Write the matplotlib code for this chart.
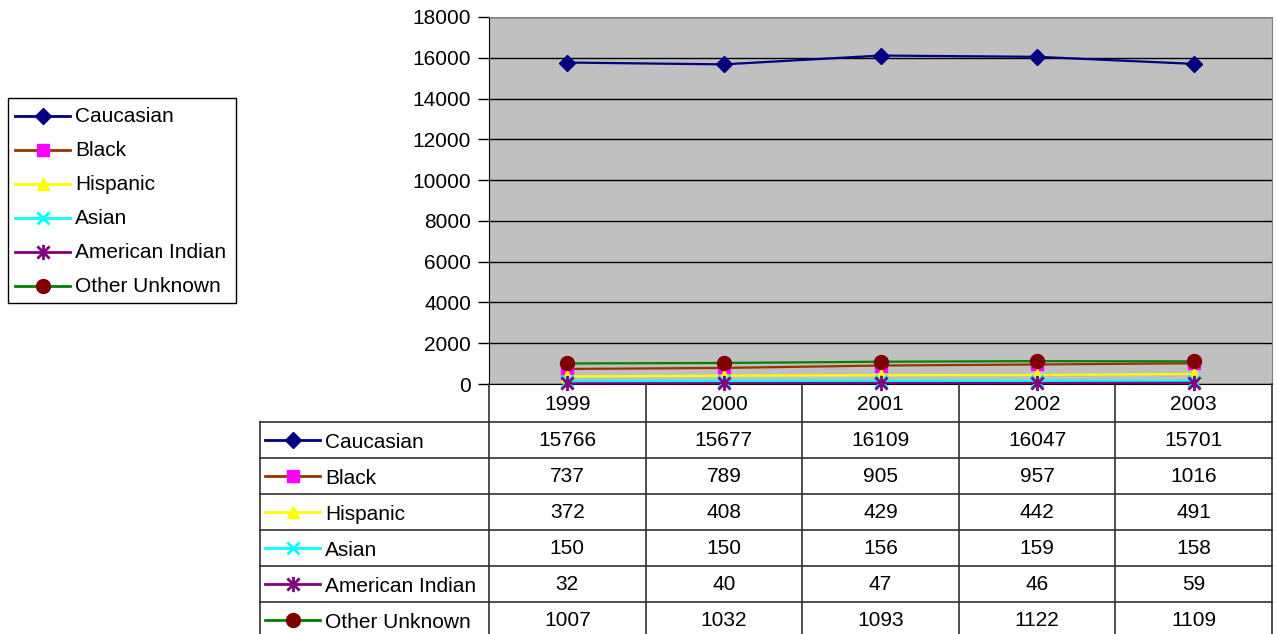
import matplotlib
matplotlib.use("Agg")
import matplotlib.pyplot as plt
from matplotlib.lines import Line2D
from matplotlib.path import Path

plt.rcParams['font.family'] = ['Liberation Sans', 'DejaVu Sans']

years = ["1999", "2000", "2001", "2002", "2003"]
series_names = ["Caucasian", "Black", "Hispanic", "Asian", "American Indian", "Other Unknown"]
caucasian = [15766, 15677, 16109, 16047, 15701]
black = [737, 789, 905, 957, 1016]
hispanic = [372, 408, 429, 442, 491]
asian = [150, 150, 156, 159, 158]
american_indian = [32, 40, 47, 46, 59]
other_unknown = [1007, 1032, 1093, 1122, 1109]
y_ticks = [0, 2000, 4000, 6000, 8000, 10000, 12000, 14000, 16000, 18000]

# asterisk marker: a diagonal cross with a vertical stroke through it
star = Path(
    [(-1, -1), (1, 1), (-1, 1), (1, -1), (0, -1.25), (0, 1.25)],
    [Path.MOVETO, Path.LINETO, Path.MOVETO, Path.LINETO, Path.MOVETO, Path.LINETO],
)

series_values = [caucasian, black, hispanic, asian, american_indian, other_unknown]
line_colors = ["#000080", "#993300", "#FFFF00", "#00FFFF", "#800080", "#008000"]
marker_styles = [
    dict(marker="D", mfc="#000080", mec="#000080", ms=8),
    dict(marker="s", mfc="#FF00FF", mec="#FF00FF", ms=8.5),
    dict(marker="^", mfc="#FFFF00", mec="#FFFF00", ms=9),
    dict(marker="x", mfc="#00FFFF", mec="#00FFFF", ms=9, mew=2),
    dict(marker=star, mfc="none", mec="#800080", ms=11, mew=2),
    dict(marker="o", mfc="#800000", mec="#800000", ms=10),
]

W, H = 1277, 634
fig = plt.figure(figsize=(W / 100, H / 100), dpi=100)
FS = 15

# plot area in pixel coordinates
px_l, px_r, px_t, px_b = 489, 1272, 17, 384
ax = fig.add_axes([px_l / W, 1 - px_b / H, (px_r - px_l) / W, (px_b - px_t) / H])
ax.set_facecolor("#C0C0C0")
x = list(range(len(years)))
for name, vals, lc_, ms in zip(series_names, series_values, line_colors, marker_styles):
    ax.plot(x, vals, lw=1.6, color=lc_, label=name, zorder=3, clip_on=False, **ms)
ax.set_xlim(-0.5, len(years) - 0.5)
ax.set_ylim(0, 18000)
ax.set_yticks(y_ticks)
ax.set_yticklabels([str(t) for t in y_ticks], fontsize=FS)
ax.tick_params(axis="y", direction="out", length=8, width=1, pad=5)
ax.set_xticks([])
ax.yaxis.grid(True, color="black", lw=1)
ax.set_axisbelow(True)
for s in ["top", "right"]:
    ax.spines[s].set_color("#808080")
for s in ["left", "bottom"]:
    ax.spines[s].set_color("black")

# overlay in pixel units for the data table and legend
ov = fig.add_axes([0, 0, 1, 1])
ov.set_xlim(0, W)
ov.set_ylim(H, 0)
ov.axis("off")
ov.patch.set_alpha(0)


def key_sample(x0, x1, cy, color, ms):
    ov.add_line(Line2D([x0, x1], [cy, cy], lw=2, color=color))
    ov.add_line(Line2D([(x0 + x1) / 2], [cy], lw=0, **ms))


col_edges = [489 + i * (1272 - 489) / len(years) for i in range(len(years) + 1)]
row_edges = [384, 422, 458, 494, 530, 566, 602, 638]
tbl_left = 260
grid_c = "#303030"

# header row with the year labels
for xe in col_edges:
    ov.plot([xe, xe], [384, H], color=grid_c, lw=1.2)
ov.plot([tbl_left, tbl_left], [422, H], color=grid_c, lw=1.2)
for ye in row_edges[1:-1]:
    ov.plot([tbl_left, 1272], [ye, ye], color=grid_c, lw=1.2)
for i, yr in enumerate(years):
    cx = (col_edges[i] + col_edges[i + 1]) / 2
    ov.text(cx, 404, yr, ha="center", va="center", fontsize=FS)

# data rows
for r, (name, vals, lc_, ms) in enumerate(zip(series_names, series_values, line_colors, marker_styles)):
    cy = (row_edges[r + 1] + row_edges[r + 2]) / 2 + 2
    key_sample(265, 320, cy - 2, lc_, ms)
    ov.text(325, cy, name, ha="left", va="center", fontsize=FS)
    for i, v in enumerate(vals):
        cx = (col_edges[i] + col_edges[i + 1]) / 2
        ov.text(cx, cy - 2, str(v), ha="center", va="center", fontsize=FS)

# legend box
ov.add_patch(plt.Rectangle((8, 98), 228, 205, fill=False, ec="black", lw=1))
for r, (name, lc_, ms) in enumerate(zip(series_names, line_colors, marker_styles)):
    cy = 116 + r * 34
    key_sample(15, 70, cy, lc_, ms)
    ov.text(75, cy + 1, name, ha="left", va="center", fontsize=FS)

fig.savefig("out.png", dpi=100)
